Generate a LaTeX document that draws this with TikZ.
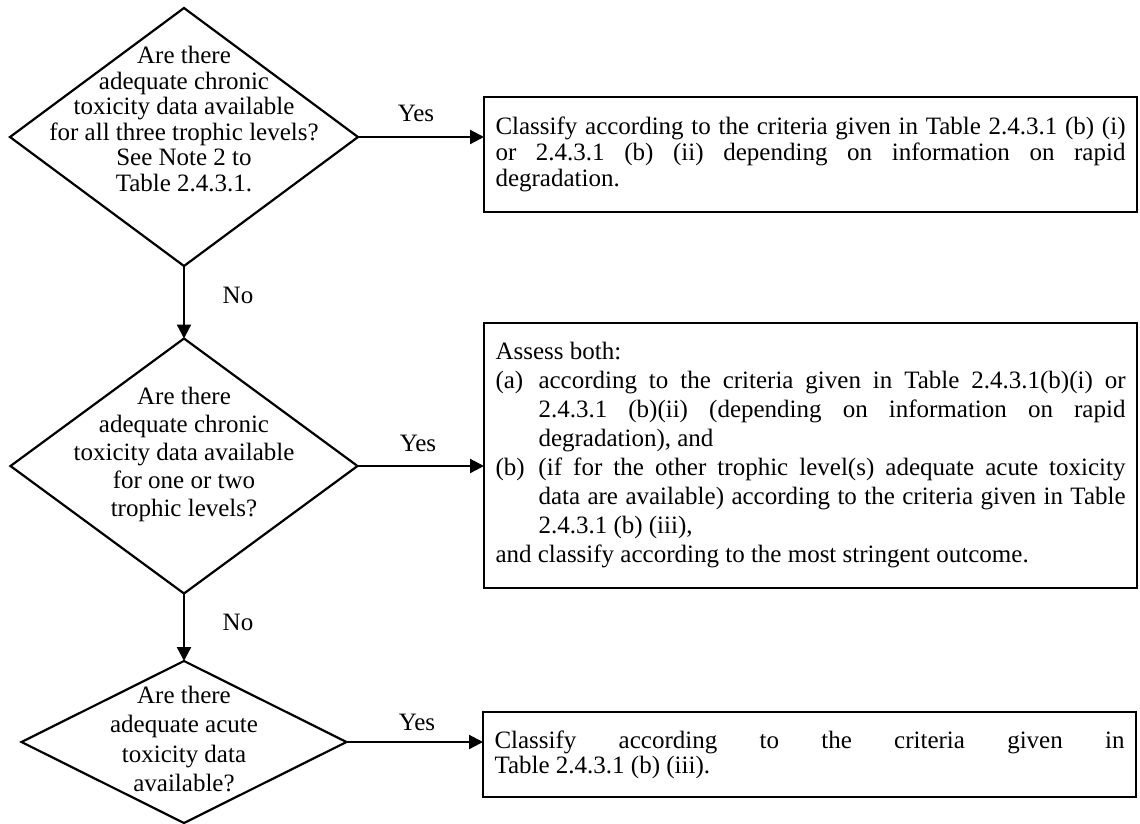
\documentclass[tikz,border=0pt]{standalone}
\usepackage{fontspec}
\setmainfont{Liberation Serif}
\usetikzlibrary{shapes.geometric,arrows.meta}
\setlength{\parindent}{0pt}
\begin{document}
\begin{tikzpicture}[x=1pt,y=-1pt,
  dec/.style={diamond, draw, line width=2.2pt, outer sep=0pt, inner sep=0pt},
  qtext/.style={align=center, inner sep=0pt},
  outbox/.style={draw, line width=2.2pt, outer sep=0pt, anchor=north west,
    text width=630pt, inner xsep=11.5pt, inner ysep=0pt, align=justify},
  lbl/.style={inner sep=0pt, font=\fontsize{25}{28}\selectfont},
  flow/.style={line width=2.2pt, -{Triangle[length=14pt,width=14pt]}}
]
\useasboundingbox (0,0) rectangle (1140,823);

% decisions
\node[dec, minimum width=348pt, minimum height=258pt] (d1) at (184,137) {};
\node[dec, minimum width=347pt, minimum height=255pt] (d2) at (184,466) {};
\node[dec, minimum width=325pt, minimum height=162pt] (d3) at (184,742) {};

\node[qtext, font=\fontsize{25}{25.6}\selectfont] (t1) at (184,119)
  {Are there\\adequate chronic\\toxicity data available\\for all three trophic levels?\\See Note 2 to\\Table 2.4.3.1.};
\node[qtext, font=\fontsize{25}{28}\selectfont] (t2) at (184,454)
  {Are there\\adequate chronic\\toxicity data available\\for one or two\\trophic levels?};
\node[qtext, font=\fontsize{25}{29.5}\selectfont] (t3) at (184,739)
  {Are there\\adequate acute\\toxicity data\\available?};

% outcome boxes
\node[outbox, minimum height=115pt, font=\fontsize{25}{26}\selectfont] (b1) at (484,97)
  {Classify according to the criteria given in Table 2.4.3.1 (b) (i)\linebreak
   or 2.4.3.1 (b) (ii) depending on information on rapid\linebreak
   degradation.};

\node[outbox, minimum height=265pt, font=\fontsize{25}{29}\selectfont] (b2) at (484,323)
  {Assess both:\par
   \hangindent=43pt\hangafter=1\makebox[43pt][l]{(a)}according to the criteria given in Table 2.4.3.1(b)(i) or\linebreak
   2.4.3.1 (b)(ii) (depending on information on rapid\linebreak
   degradation), and\par
   \hangindent=43pt\hangafter=1\makebox[43pt][l]{(b)}(if for the other trophic level(s) adequate acute toxicity\linebreak
   data are available) according to the criteria given in Table\linebreak
   2.4.3.1 (b) (iii),\par
   and classify according to the most stringent outcome.};

\node[outbox, minimum height=85pt, font=\fontsize{25}{25}\selectfont] (b3) at (483,712)
  {Classify according to the criteria given in\linebreak
   Table 2.4.3.1 (b) (iii).};

% connectors
\draw[flow] (d1.east) -- (d1.east -| b1.west);
\draw[flow] (d2.east) -- (d2.east -| b2.west);
\draw[flow] (d3.east) -- (d3.east -| b3.west);
\draw[flow] (d1.south) -- (d2.north);
\draw[flow] (d2.south) -- (d3.north);

% labels
\node[lbl] (y1) at (416,113) {Yes};
\node[lbl] (y2) at (418,443) {Yes};
\node[lbl] (y3) at (417,722) {Yes};
\node[lbl] (n1) at (238,295) {No};
\node[lbl] (n2) at (238,622) {No};
\end{tikzpicture}
\end{document}
